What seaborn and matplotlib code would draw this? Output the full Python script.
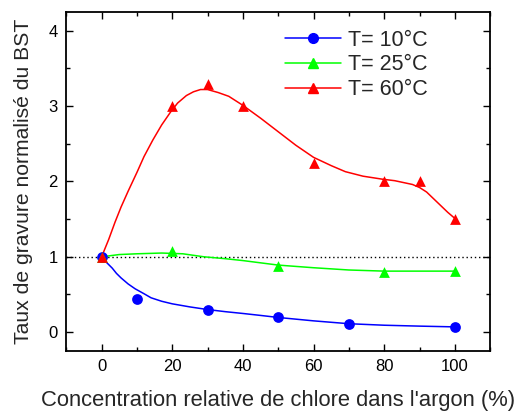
import seaborn as sns
import matplotlib.pyplot as plt
import pandas as pd
from matplotlib.lines import Line2D
from matplotlib.ticker import MultipleLocator

# measured points
x_10 = [0, 10, 30, 50, 70, 100]
y_10 = [1.0, 0.44, 0.30, 0.195, 0.11, 0.07]
x_25 = [0, 20, 50, 80, 100]
y_25 = [1.0, 1.08, 0.88, 0.80, 0.81]
x_60 = [0, 20, 30, 40, 60, 80, 90, 100]
y_60 = [1.0, 3.0, 3.3, 3.0, 2.25, 2.0, 2.0, 1.5]

# fitted curves
cx_10 = [0, 1.5, 3, 4.2, 5.5, 7.5, 9.5, 12, 14, 17, 20, 25, 30, 35, 40, 45, 50, 60, 70, 80, 90, 100]
cy_10 = [1.0, 0.92, 0.85, 0.78, 0.72, 0.64, 0.575, 0.51, 0.456, 0.41, 0.376, 0.335, 0.30, 0.272,
         0.248, 0.222, 0.195, 0.15, 0.112, 0.092, 0.08, 0.07]
cx_25 = [0, 5, 10, 17, 23, 29, 35, 40, 45, 50, 60, 70, 80, 90, 100]
cy_25 = [1.0, 1.03, 1.04, 1.05, 1.04, 1.0, 0.975, 0.95, 0.92, 0.89, 0.855, 0.825, 0.81, 0.81, 0.81]
cx_60 = [0, 2, 3.8, 5.5, 7.5, 10, 12, 14.5, 17, 19.5, 21.5, 24, 26, 28, 30, 33, 36, 40, 45,
         50, 55, 60, 65, 69, 74, 79.5, 83, 86, 88, 90, 92, 94, 96, 98, 100]
cy_60 = [1.0, 1.23, 1.46, 1.66, 1.87, 2.12, 2.33, 2.55, 2.75, 2.92, 3.04, 3.14, 3.19, 3.22, 3.22,
         3.18, 3.13, 3.01, 2.84, 2.66, 2.48, 2.32, 2.21, 2.13, 2.07, 2.03, 2.01, 1.98, 1.96,
         1.92, 1.86, 1.77, 1.68, 1.59, 1.51]

labels = ["T= 10°C", "T= 25°C", "T= 60°C"]
colors = ["#0000ff", "#00ff00", "#ff0000"]
markers = ["o", "^", "^"]

sns.set_style("ticks")
plt.rcParams["font.family"] = ["Liberation Sans", "DejaVu Sans"]

fig = plt.figure(figsize=(5.22, 4.11), dpi=100)
ax = fig.add_axes([0.127, 0.146, 0.812, 0.825])

ax.axhline(1, color="black", linestyle=(0, (1, 2)), linewidth=1)

series = [(cx_10, cy_10, x_10, y_10), (cx_25, cy_25, x_25, y_25), (cx_60, cy_60, x_60, y_60)]
for (cx, cy, px, py), c in zip(series, colors):
    curve = pd.DataFrame({"x": cx, "y": cy})
    sns.lineplot(data=curve, x="x", y="y", color=c, linewidth=1.1, ax=ax)
for (cx, cy, px, py), c, m in zip(series, colors, markers):
    pts = pd.DataFrame({"x": px, "y": py})
    sns.scatterplot(data=pts, x="x", y="y", color=c, marker=m, s=60, edgecolor=c,
                    linewidth=0, ax=ax, zorder=5)

ax.set_xlim(-10, 110)
ax.set_ylim(-0.25, 4.25)
ax.xaxis.set_major_locator(MultipleLocator(20))
ax.xaxis.set_minor_locator(MultipleLocator(10))
ax.yaxis.set_major_locator(MultipleLocator(1))
ax.yaxis.set_minor_locator(MultipleLocator(0.5))
ax.tick_params(which="both", direction="in", top=True, right=True, width=1, colors="black")
ax.tick_params(which="major", length=5, labelsize=12, pad=6)
ax.tick_params(which="minor", length=3)
for s in ax.spines.values():
    s.set_linewidth(1.3)
    s.set_color("black")

ax.set_xlabel("Concentration relative de chlore dans l'argon (%)", fontsize=15.8, labelpad=11)
ax.set_ylabel("Taux de gravure normalisé du BST", fontsize=15.2, labelpad=11)

handles = [Line2D([], [], color=c, marker=m, markersize=7, linewidth=1.1)
           for c, m in zip(colors, markers)]
ax.legend(handles, labels, loc="upper left", bbox_to_anchor=(0.515, 0.948), frameon=False,
          fontsize=15.5, handlelength=2.6, handletextpad=0.35, labelspacing=0.18,
          borderpad=0, borderaxespad=0)

fig.savefig("out.png", dpi=100)
